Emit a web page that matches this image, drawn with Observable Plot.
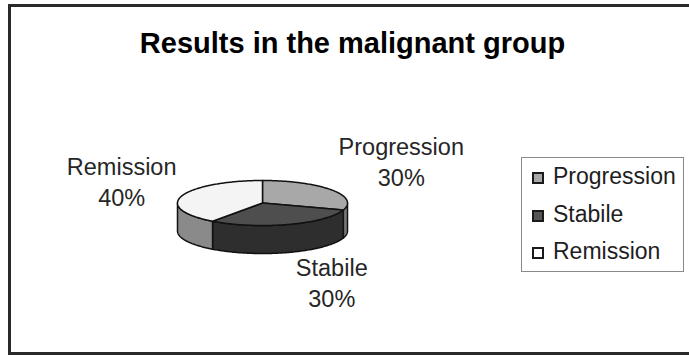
<!DOCTYPE html>
<html>
<head>
<meta charset="utf-8">
<script src="https://cdn.jsdelivr.net/npm/d3@7"></script>
<script src="https://cdn.jsdelivr.net/npm/@observablehq/plot@0.6"></script>
<style>
  html, body { margin: 0; padding: 0; background: #fff; }
  #wrap { position: relative; width: 689px; height: 356px; overflow: hidden; background: #fff;
          font-family: "Liberation Sans", Arial, sans-serif; }
  #frame { position: absolute; left: 8px; top: 4px; width: 720px; height: 345px; border: 3px solid #2a2a2a; }
  #chart { position: absolute; left: 0; top: 0; }
  #legend { position: absolute; left: 521px; top: 157px; width: 163px; height: 115px; border: 1.5px solid #8a8a8a; box-sizing: border-box; }
  .lg-item { position: absolute; left: 0; height: 23px; width: 160px; }
  .lg-sw { position: absolute; left: 10px; width: 12px; height: 12px; box-sizing: border-box; border: 2px solid #1a1a1a; }
  .lg-tx { position: absolute; left: 31px; top: 0; font-size: 23px; line-height: 23px; color: #1e1e1e; white-space: nowrap; }
</style>
</head>
<body>
<div id="wrap">
  <div id="frame"></div>
  <div id="chart"></div>
  <div id="legend"></div>
</div>
<script>
// ---- data ----
const title = "Results in the malignant group";
const categories = ["Progression", "Stabile", "Remission"];
const values = [30, 30, 40];

// ---- styles ----
const topColors = ["#a8a8a8", "#4e4e4e", "#f4f4f4"];
const sideColors = ["#7a7a7a", "#2e2e2e", "#8a8a8a"];
const legendColors = ["#a8a8a8", "#555555", "#ffffff"];
const labelNudge = [[70, -29], [43, 29], [-60, -15]]; // label placement relative to slice rim (px)
const depth = 28 / 22.5; // pie thickness in vertical radius units

// ---- geometry derived from the data ----
const total = d3.sum(values);
let acc = 0;
const slices = categories.map((c, i) => {
  const a0 = acc / total * 2 * Math.PI;
  acc += values[i];
  const a1 = acc / total * 2 * Math.PI;
  return {category: c, value: values[i], a0, a1, i};
});

function arc(a0, a1, yOff) {
  const n = Math.max(2, Math.ceil((a1 - a0) / (Math.PI / 180)));
  const pts = [];
  for (let k = 0; k <= n; k++) {
    const a = a0 + (a1 - a0) * k / n;
    pts.push({x: Math.sin(a), y: Math.cos(a) + yOff});
  }
  return pts;
}

const marks = [];
// side faces (front half only)
for (const s of slices) {
  const s0 = Math.max(s.a0, Math.PI / 2), s1 = Math.min(s.a1, 3 * Math.PI / 2);
  if (s0 < s1) {
    const poly = [...arc(s0, s1, 0), ...arc(s0, s1, -depth).reverse()];
    marks.push(Plot.line(poly, {x: "x", y: "y", curve: "linear-closed", fill: sideColors[s.i],
      stroke: "#111", strokeWidth: 1.5, strokeLinejoin: "round"}));
  }
}
// top faces
for (const s of slices) {
  const poly = [{x: 0, y: 0}, ...arc(s.a0, s.a1, 0)];
  marks.push(Plot.line(poly, {x: "x", y: "y", curve: "linear-closed", fill: topColors[s.i],
    stroke: "#111", strokeWidth: 1.5, strokeLinejoin: "round"}));
}
// data labels
for (const s of slices) {
  const m = (s.a0 + s.a1) / 2;
  const c = Math.cos(m);
  const d = {x: Math.sin(m), y: c + (c < 0 ? -depth : 0), text: `${s.category}\n${s.value}%`};
  marks.push(Plot.text([d], {x: "x", y: "y", text: "text", dx: labelNudge[s.i][0], dy: labelNudge[s.i][1],
    fontSize: 23.5, lineHeight: 1.32, lineAnchor: "middle", fill: "#262626"}));
}
// title
marks.push(Plot.text([title], {frameAnchor: "top", dx: 7.5, dy: 52, lineAnchor: "bottom",
  fontSize: 29, fontWeight: "bold", fill: "#000"}));

const chart = Plot.plot({
  width: 689,
  height: 356,
  margin: 0,
  x: {domain: [-1, 1], range: [177, 347], axis: null},
  y: {domain: [-1, 1], range: [225, 180], axis: null},
  style: {background: "transparent", fontFamily: '"Liberation Sans", Arial, sans-serif', overflow: "visible"},
  marks
});
document.getElementById("chart").appendChild(chart);

// legend
const legend = document.getElementById("legend");
categories.forEach((c, i) => {
  const center = 175 + i * 37.5 - 157;
  const item = document.createElement("div");
  item.className = "lg-item";
  item.style.top = (center - 11) + "px";
  const sw = document.createElement("div");
  sw.className = "lg-sw";
  sw.style.background = legendColors[i];
  sw.style.top = (11 - 6 + 2) + "px";
  const tx = document.createElement("div");
  tx.className = "lg-tx";
  tx.textContent = c;
  item.appendChild(sw);
  item.appendChild(tx);
  legend.appendChild(item);
});
</script>
</body>
</html>
